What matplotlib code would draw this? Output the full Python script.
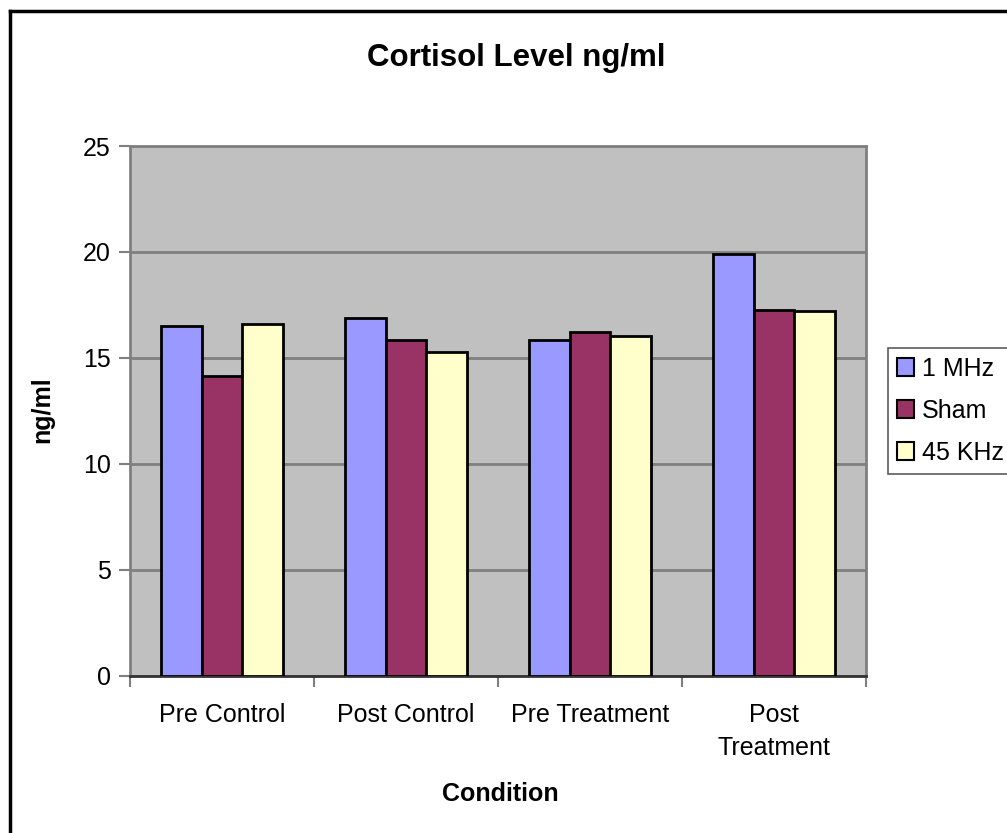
import matplotlib
matplotlib.use("Agg")
import matplotlib.pyplot as plt
from matplotlib.lines import Line2D
from matplotlib.patches import Patch
import numpy as np

conditions = ["Pre Control", "Post Control", "Pre Treatment", "Post\nTreatment"]
series_names = ["1 MHz", "Sham", "45 KHz"]
mhz_1 = [16.5, 16.9, 15.85, 19.9]
sham = [14.15, 15.85, 16.2, 17.25]
khz_45 = [16.6, 15.3, 16.05, 17.2]
colors = ["#9999FF", "#993366", "#FFFFCC"]

plt.rcParams["font.family"] = ["Liberation Sans", "DejaVu Sans"]

fig = plt.figure(figsize=(10.07, 8.33), dpi=100)
ax = fig.add_axes([130 / 1007, 1 - 675.7 / 833, (866 - 130) / 1007, (675.7 - 146) / 833])
ax.set_facecolor("#C0C0C0")

x = np.arange(len(conditions))
width = 1 / 4.5
for i, (vals, color, name) in enumerate(zip([mhz_1, sham, khz_45], colors, series_names)):
    ax.bar(x + (i - 1) * width, vals, width=width, color=color, edgecolor="black",
           linewidth=2, label=name, zorder=3)

ax.set_xlim(-0.5, len(conditions) - 0.5)
ax.set_ylim(0, 25)
ax.set_yticks([0, 5, 10, 15, 20, 25])
ax.yaxis.grid(True, color="#808080", linewidth=2, zorder=1)
ax.set_axisbelow(True)

ax.set_xticks(x)
ax.set_xticklabels(conditions, fontsize=18, linespacing=1.45)
ax.set_xticks(np.arange(len(conditions) + 1) - 0.5, minor=True)
ax.tick_params(axis="x", which="major", length=0, pad=20)
ax.tick_params(axis="x", which="minor", length=8, width=1.5, color="#808080", direction="out")
ax.tick_params(axis="y", length=8, width=1.5, color="#808080", labelsize=18, pad=6)

for side in ["left", "top", "right"]:
    ax.spines[side].set_color("#808080")
    ax.spines[side].set_linewidth(2)
ax.spines["bottom"].set_color("#333333")
ax.spines["bottom"].set_linewidth(2)

fig.text(516 / 1007, 1 - 58 / 833, "Cortisol Level ng/ml", fontsize=22.5, fontweight="bold",
         ha="center", va="center")
fig.text(500 / 1007, 1 - 794 / 833, "Condition", fontsize=18, fontweight="bold",
         ha="center", va="center")
fig.text(42 / 1007, 1 - 410 / 833, "ng/ml", fontsize=18, fontweight="bold",
         ha="center", va="center", rotation=90)

handles = [Patch(facecolor=c, edgecolor="black", linewidth=1.5) for c in colors]
leg = fig.legend(handles, series_names, loc="upper left",
                 bbox_to_anchor=(888 / 1007, 1 - 348 / 833), fontsize=18,
                 frameon=True, fancybox=False, edgecolor="#333333",
                 handlelength=0.7, handleheight=0.7, handletextpad=0.3,
                 labelspacing=0.72, borderpad=0.35, borderaxespad=0)
leg.get_frame().set_linewidth(1.2)

fig.add_artist(Line2D([10 / 1007, 10 / 1007], [0, 1 - 11 / 833], transform=fig.transFigure,
                      color="black", linewidth=2.5))
fig.add_artist(Line2D([10 / 1007, 1], [1 - 11 / 833, 1 - 11 / 833], transform=fig.transFigure,
                      color="black", linewidth=2.5))

fig.savefig("out.png", dpi=100)
